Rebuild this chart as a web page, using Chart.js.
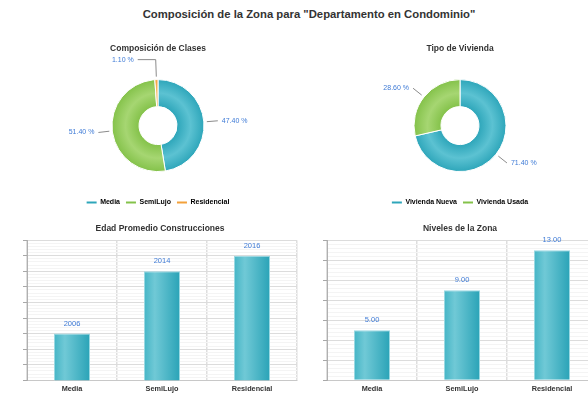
<!DOCTYPE html>
<html>
<head>
<meta charset="utf-8">
<script src="https://cdn.jsdelivr.net/npm/chart.js@4.4.1/dist/chart.umd.min.js"></script>
<style>
  html, body { margin: 0; padding: 0; background: #fff; width: 588px; height: 404px; overflow: hidden; position: relative; }
  #main-title { position: absolute; top: 8px; left: 0; width: 618px; text-align: center; white-space: nowrap;
    font: bold 11.3px "Liberation Sans", Arial, sans-serif; color: #333; }
  .box { position: absolute; }
</style>
</head>
<body>
<div id="main-title">Composición de la Zona para "Departamento en Condominio"</div>
<div class="box" style="left:0;top:36px;width:316px;height:180px"><canvas id="clases"></canvas></div>
<div class="box" style="left:332px;top:36px;width:256px;height:180px"><canvas id="vivienda"></canvas></div>
<div class="box" style="left:0;top:216px;width:316px;height:188px"><canvas id="edad"></canvas></div>
<div class="box" style="left:300px;top:216px;width:316px;height:188px"><canvas id="niveles"></canvas></div>
<script>
// data
var clases = ['Media', 'SemiLujo', 'Residencial'];
var clasesPct = [47.4, 51.4, 1.1];
var tipos = ['Vivienda Nueva', 'Vivienda Usada'];
var tiposPct = [71.4, 28.6];
var edadValores = [2006, 2014, 2016];
var nivelesValores = [5, 9, 13];

Chart.defaults.font.family = '"Liberation Sans", Arial, sans-serif';
Chart.defaults.color = '#333';
Chart.defaults.animation = false;

var LABEL_BLUE = '#3f7bd6';
var colTeal = ['#2ea6ba', '#5cc2d2'];
var colGreen = ['#84c24a', '#a6d672'];
var colOrange = ['#f3a13a', '#f8bf6e'];

function ringFill(colors) {
  return function(ctx) {
    var pair = colors[ctx.dataIndex] || colors[0];
    var ca = ctx.chart.chartArea;
    if (!ca) return pair[0];
    var cx = (ca.left + ca.right) / 2, cy = (ca.top + ca.bottom) / 2;
    var g = ctx.chart.ctx.createRadialGradient(cx, cy, 19, cx, cy, 46);
    g.addColorStop(0, pair[0]);
    g.addColorStop(0.5, pair[1]);
    g.addColorStop(1, pair[0]);
    return g;
  };
}

// leader lines + percentage labels on the doughnuts
var pieLabels = {
  id: 'pieLabels',
  afterDatasetsDraw: function(chart) {
    var c = chart.ctx;
    var meta = chart.getDatasetMeta(0);
    var vals = chart.data.datasets[0].data;
    c.save();
    c.font = '7px "Liberation Sans", Arial, sans-serif';
    c.textBaseline = 'middle';
    meta.data.forEach(function(arc, i) {
      var mid = (arc.startAngle + arc.endAngle) / 2;
      var R = arc.outerRadius;
      var cs = Math.cos(mid), sn = Math.sin(mid);
      var nearVertical = Math.abs(cs) < 0.3;
      var ext = nearVertical ? 20 : 14;
      var x1 = arc.x + (R + 3) * cs, y1 = arc.y + (R + 3) * sn;
      var x2 = arc.x + (R + ext) * cs, y2 = arc.y + (R + ext) * sn;
      var dir = cs >= 0 ? 1 : -1;
      var x3 = x2 + (nearVertical ? 18 : 0) * dir;
      c.strokeStyle = '#8a8a8a';
      c.lineWidth = 1;
      c.beginPath();
      c.moveTo(x1, y1); c.lineTo(x2, y2); c.lineTo(x3, y2);
      c.stroke();
      c.fillStyle = LABEL_BLUE;
      c.textAlign = dir > 0 ? 'left' : 'right';
      c.fillText(vals[i].toFixed(2) + ' %', x3 + dir * 4, y2);
    });
    c.restore();
  }
};

function donut(id, title, labels, values, colors) {
  var flat = colors.map(function(p) { return p[0]; });
  return new Chart(document.getElementById(id), {
    type: 'doughnut',
    data: {
      labels: labels,
      datasets: [{
        data: values,
        backgroundColor: ringFill(colors),
        borderColor: '#fff',
        borderWidth: 1,
        radius: 46,
        cutout: '41.3%'
      }]
    },
    options: {
      responsive: true,
      maintainAspectRatio: false,
      plugins: {
        title: { display: true, text: title,
          font: { size: 8.5, weight: 'bold' }, color: '#333', padding: { top: 8, bottom: 4 } },
        legend: {
          position: 'bottom',
          labels: {
            boxWidth: 10, boxHeight: 2, padding: 6,
            font: { size: 7, weight: 'bold' }, color: '#333',
            generateLabels: function(chart) {
              return labels.map(function(l, i) {
                return { text: l, fillStyle: flat[i], strokeStyle: flat[i], lineWidth: 0, hidden: false, index: i };
              });
            }
          }
        },
        tooltip: { enabled: false }
      }
    },
    plugins: [pieLabels]
  });
}

donut('clases', 'Composición de Clases', clases, clasesPct, [colTeal, colGreen, colOrange]);
donut('vivienda', 'Tipo de Vivienda', tipos, tiposPct, [colTeal, colGreen]);

// value labels above bars
var barLabels = {
  id: 'barLabels',
  afterDatasetsDraw: function(chart, args, opts) {
    var c = chart.ctx;
    var meta = chart.getDatasetMeta(0);
    var vals = chart.data.datasets[0].data;
    c.save();
    c.font = '7.5px "Liberation Sans", Arial, sans-serif';
    c.fillStyle = LABEL_BLUE;
    c.textAlign = 'center';
    c.textBaseline = 'middle';
    meta.data.forEach(function(bar, i) {
      c.fillText(opts.format(vals[i]), bar.x, bar.y - 10);
    });
    c.restore();
  }
};

function barGradient(ctx) {
  var chart = ctx.chart;
  if (!chart.chartArea || ctx.dataIndex === undefined) return colTeal[0];
  var x = chart.scales.x.getPixelForValue(ctx.dataIndex);
  var w = (chart.chartArea.right - chart.chartArea.left) / chart.data.labels.length * 0.4;
  var g = chart.ctx.createLinearGradient(x - w / 2, 0, x + w / 2, 0);
  g.addColorStop(0, '#45b5c6');
  g.addColorStop(0.3, '#70c9d6');
  g.addColorStop(1, '#2aa3b7');
  return g;
}

function isMajor(v) { return Math.abs(v / 2 - Math.round(v / 2)) < 1e-6; }

function bars(id, title, values, min, max, fmt) {
  return new Chart(document.getElementById(id), {
    type: 'bar',
    data: {
      labels: clases,
      datasets: [{
        data: values,
        backgroundColor: barGradient,
        borderColor: '#9ad8e2',
        borderWidth: 1,
        barPercentage: 0.4,
        categoryPercentage: 1
      }]
    },
    options: {
      responsive: true,
      maintainAspectRatio: false,
      layout: { padding: { left: 23, right: 19, bottom: 7 } },
      scales: {
        x: {
          grid: { color: '#dedede', lineWidth: 1.5, drawTicks: false },
          border: { color: '#c8c8c8' },
          ticks: { font: { size: 7.3, weight: 'bold' }, color: '#333', padding: 4 }
        },
        y: {
          min: min, max: max,
          grid: {
            tickLength: 4,
            color: function(ctx) { return isMajor(ctx.tick.value) ? '#dcdcdc' : '#f4f4f4'; },
            tickColor: function(ctx) { return isMajor(ctx.tick.value) ? '#a8a8a8' : 'rgba(0,0,0,0)'; }
          },
          border: { color: '#b0b0b0' },
          ticks: { display: false, stepSize: 0.4 }
        }
      },
      plugins: {
        title: { display: true, text: title, font: { size: 8.5, weight: 'bold' }, color: '#333',
          padding: { top: 8, bottom: 6 } },
        legend: { display: false },
        tooltip: { enabled: false },
        barLabels: { format: fmt }
      }
    },
    plugins: [barLabels]
  });
}

bars('edad', 'Edad Promedio Construcciones', edadValores, 2000, 2018, function(v) { return String(v); });
bars('niveles', 'Niveles de la Zona', nivelesValores, 0, 14, function(v) { return v.toFixed(2); });
</script>
</body>
</html>
